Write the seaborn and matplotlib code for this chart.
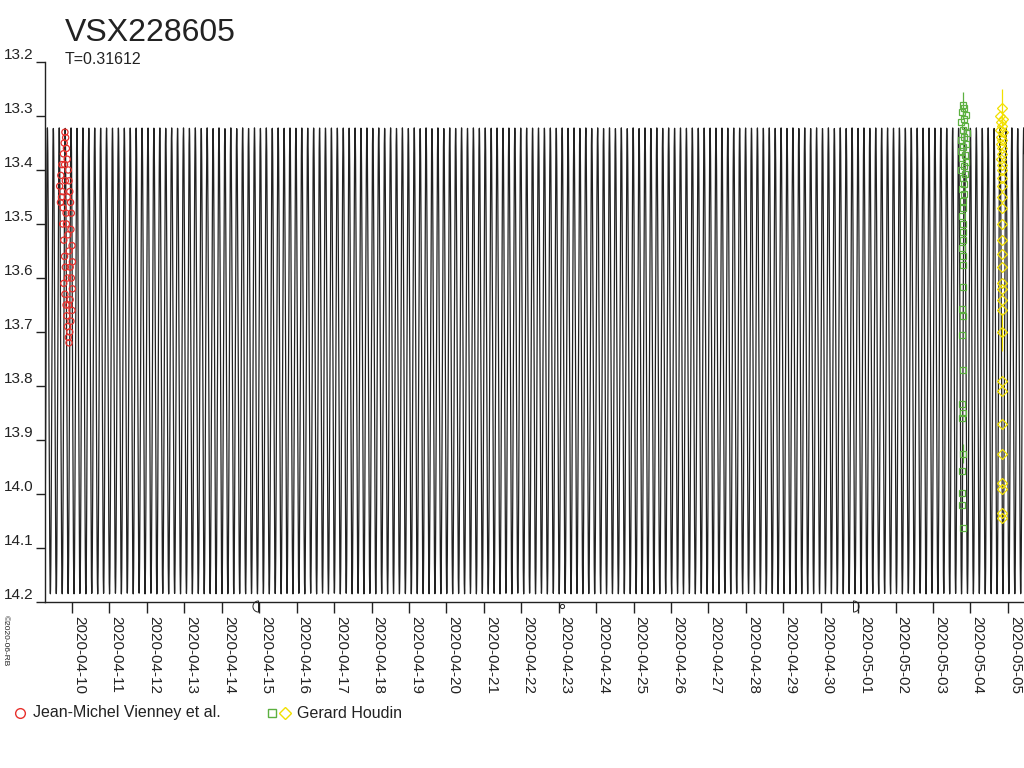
"""
Light curve of VSX228605 with the period model and the observers' points.
"""

import numpy as np
import pandas as pd
import matplotlib
matplotlib.use("Agg")
import matplotlib.pyplot as plt
import matplotlib.dates as mdates
from matplotlib.lines import Line2D
from matplotlib.path import Path
import seaborn as sns

STAR = "VSX228605"
PERIOD = 0.31612           # days, the "T" of the chart
MAG_BRIGHT = 13.322
MAG_FAINT = 14.185
EPOCH = "2020-04-09 12:00"
DAY0 = pd.Timestamp("2020-04-10")
X_START = "2020-04-09 06:40"
X_END = "2020-05-05 10:20"
MODEL_STEP_DAYS = 0.004

# Jean-Michel Vienney et al. (days after 2020-04-10, magnitude)
red_days = [-0.19, -0.17, -0.21, -0.15, -0.23, -0.13, -0.27, -0.10, -0.30, -0.08,
            -0.33, -0.06, -0.28, -0.04, -0.24, -0.02, -0.25, -0.03, -0.22, 0.00,
            -0.20, 0.01, -0.18, -0.02, -0.22, 0.01, -0.19, -0.05, -0.16, 0.00,
            -0.14, -0.03, -0.12, -0.06, -0.10, -0.08, -0.12, -0.15, -0.08, -0.12,
            -0.09, -0.18, -0.05, -0.26, -0.31, -0.20, -0.11, -0.16]
red_mags = [13.33, 13.34, 13.35, 13.36, 13.37, 13.38, 13.39, 13.40, 13.41, 13.42,
            13.43, 13.44, 13.45, 13.46, 13.47, 13.48, 13.50, 13.51, 13.53, 13.54,
            13.56, 13.57, 13.58, 13.60, 13.61, 13.62, 13.63, 13.64, 13.65, 13.66,
            13.67, 13.68, 13.69, 13.70, 13.71, 13.72, 13.45, 13.50, 13.55, 13.60,
            13.65, 13.42, 13.58, 13.44, 13.46, 13.39, 13.52, 13.48]

# Gerard Houdin, green series
green_days = [23.80, 23.84, 23.77, 23.88, 23.82, 23.75, 23.86, 23.79, 23.90, 23.83,
              23.76, 23.87, 23.81, 23.74, 23.85, 23.78, 23.89, 23.82, 23.76, 23.86,
              23.80, 23.84, 23.78, 23.82, 23.79, 23.81, 23.78, 23.80, 23.79, 23.81,
              23.78, 23.80, 23.79, 23.79, 23.78, 23.79, 23.78, 23.79, 23.78, 23.79,
              23.78, 23.79, 23.78, 23.78, 23.78, 23.79]
green_mags = [13.280, 13.285, 13.292, 13.298, 13.305, 13.312, 13.318, 13.325, 13.332, 13.338,
              13.345, 13.352, 13.358, 13.365, 13.372, 13.378, 13.385, 13.392, 13.400, 13.408,
              13.415, 13.425, 13.435, 13.445, 13.458, 13.470, 13.485, 13.500, 13.515, 13.530,
              13.545, 13.560, 13.575, 13.617, 13.657, 13.670, 13.705, 13.770, 13.833, 13.850,
              13.860, 13.925, 13.957, 13.998, 14.020, 14.063]
green_errs = [0.025] + [0.0] * 40 + [0.018] + [0.0] * 4

# Gerard Houdin, yellow series
yellow_days = [24.83, 24.79, 24.87, 24.81, 24.85, 24.80, 24.86, 24.82, 24.84, 24.81,
               24.85, 24.83, 24.82, 24.84, 24.83, 24.83, 24.84, 24.83, 24.84, 24.83,
               24.84, 24.83, 24.84, 24.83, 24.84, 24.84, 24.83, 24.84, 24.84, 24.83,
               24.84, 24.83, 24.84, 24.85, 24.83, 24.84]
yellow_mags = [13.285, 13.300, 13.305, 13.312, 13.318, 13.325, 13.330, 13.338, 13.345, 13.352,
               13.360, 13.370, 13.380, 13.390, 13.400, 13.415, 13.430, 13.450, 13.470, 13.500,
               13.530, 13.555, 13.580, 13.610, 13.620, 13.640, 13.660, 13.700, 13.790, 13.810,
               13.870, 13.926, 13.980, 13.990, 14.035, 14.045]
yellow_errs = [0.035] + [0.0] * 26 + [0.035] + [0.0] * 8

# moon phases shown under the axis
moon_dates = ["2020-04-14 22:56", "2020-04-23 02:26", "2020-04-30 20:38"]
moon_phases = ["last", "new", "first"]

RED = "#e8302c"
GREEN = "#5cb040"
YELLOW = "#f2e000"
INK = "#222222"


def half_disc(side):
    # outline of a half moon, flat side on the marker centre
    if side == "left":
        theta = np.linspace(np.pi / 2, 3 * np.pi / 2, 25)
    else:
        theta = np.linspace(-np.pi / 2, np.pi / 2, 25)
    verts = list(zip(np.cos(theta), np.sin(theta))) + [(0.0, 1.0)]
    return Path(verts, closed=True)


def to_time(days):
    return DAY0 + pd.to_timedelta(np.asarray(days), unit="D")


def main() -> None:
    sns.set_theme(style="white")
    plt.rcParams["font.family"] = ["Liberation Sans", "DejaVu Sans"]

    fig = plt.figure(figsize=(10.24, 7.68), dpi=100)
    ax = fig.add_axes([45 / 1024, 166 / 768, 979 / 1024, 540 / 768])

    # model curve from the period
    t0 = pd.Timestamp(X_START)
    t1 = pd.Timestamp(X_END)
    n = int((t1 - t0) / pd.Timedelta(days=MODEL_STEP_DAYS)) + 2
    times = t0 + pd.to_timedelta(np.arange(n) * MODEL_STEP_DAYS, unit="D")
    phase = ((times - pd.Timestamp(EPOCH)) / pd.Timedelta(days=1) / PERIOD) % 1.0
    model = MAG_BRIGHT + (MAG_FAINT - MAG_BRIGHT) * (1 - np.cos(4 * np.pi * np.asarray(phase))) / 2
    model_df = pd.DataFrame({"time": times, "mag": model})
    sns.lineplot(data=model_df, x="time", y="mag", estimator=None, sort=False,
                 color=INK, linewidth=0.9, ax=ax)

    # observations
    sns.scatterplot(x=to_time(red_days), y=red_mags, marker="o", s=20,
                    color=RED, facecolor="none", edgecolor=RED, linewidth=0.9, ax=ax, zorder=3)
    ax.errorbar(to_time(green_days), green_mags, yerr=green_errs, fmt="s", ms=5,
                mfc="none", mec=GREEN, mew=0.9, ecolor=GREEN, elinewidth=0.9, capsize=0, zorder=4)
    ax.errorbar(to_time(yellow_days), yellow_mags, yerr=yellow_errs, fmt="D", ms=5,
                mfc="none", mec=YELLOW, mew=0.9, ecolor=YELLOW, elinewidth=0.9, capsize=0, zorder=4)

    # moon phases
    for d, p in zip(moon_dates, moon_phases):
        if p == "new":
            mk, ms = "o", 3
        else:
            mk, ms = half_disc("left" if p == "last" else "right"), 8
        ax.plot([pd.Timestamp(d)], [14.208], marker=mk, ms=ms, mfc="none", mec=INK,
                mew=0.7, linestyle="none", clip_on=False, zorder=5)

    ax.set_xlim(pd.Timestamp(X_START), pd.Timestamp(X_END))
    ax.set_ylim(14.2, 13.2)
    ax.set_xlabel("")
    ax.set_ylabel("")

    ax.xaxis.set_major_locator(mdates.DayLocator())
    ax.xaxis.set_major_formatter(mdates.DateFormatter("%Y-%m-%d"))
    ax.set_yticks(np.round(np.arange(13.2, 14.21, 0.1), 1))
    ax.set_yticklabels([f"{v:.1f}" for v in np.round(np.arange(13.2, 14.21, 0.1), 1)])
    ax.tick_params(axis="x", length=8, width=1, color=INK, pad=2, labelsize=11,
                   labelcolor=INK, direction="out", bottom=True)
    ax.tick_params(axis="y", length=6.5, width=1, color=INK, pad=2, labelsize=11,
                   labelcolor=INK, direction="out", left=True)
    for lbl in ax.get_xticklabels():
        lbl.set_rotation(270)
        lbl.set_ha("left")
        lbl.set_va("top")
    for lbl in ax.get_yticklabels():
        lbl.set_va("bottom")

    for s in ["top", "right"]:
        ax.spines[s].set_visible(False)
    for s in ["left", "bottom"]:
        ax.spines[s].set_color(INK)
        ax.spines[s].set_linewidth(1)
    ax.grid(False)

    fig.text(65 / 1024, 1 - 41 / 768, STAR, fontsize=23, color=INK, va="baseline")
    fig.text(65 / 1024, 1 - 64 / 768, f"T={PERIOD}", fontsize=11.5, color=INK, va="baseline")
    fig.text(2 / 1024, 1 - 615 / 768, "\u00a92020-06-RB", fontsize=6, color=INK,
             rotation=270, ha="left", va="top")

    # legend under the chart
    ly = 1 - 713 / 768
    fig.add_artist(Line2D([20 / 1024], [ly], marker="o", ms=7, mfc="none", mec=RED,
                          mew=1, transform=fig.transFigure))
    fig.text(33 / 1024, ly, "Jean-Michel Vienney et al.", fontsize=11.5, color=INK, va="center")
    fig.add_artist(Line2D([272 / 1024], [ly], marker="s", ms=6, mfc="none", mec=GREEN,
                          mew=1, transform=fig.transFigure))
    fig.add_artist(Line2D([285 / 1024], [ly], marker="D", ms=6, mfc="none", mec=YELLOW,
                          mew=1, transform=fig.transFigure))
    fig.text(297 / 1024, ly, "Gerard Houdin", fontsize=11.5, color=INK, va="center")

    fig.savefig("out.png", dpi=100)
    plt.close(fig)


if __name__ == "__main__":
    main()
